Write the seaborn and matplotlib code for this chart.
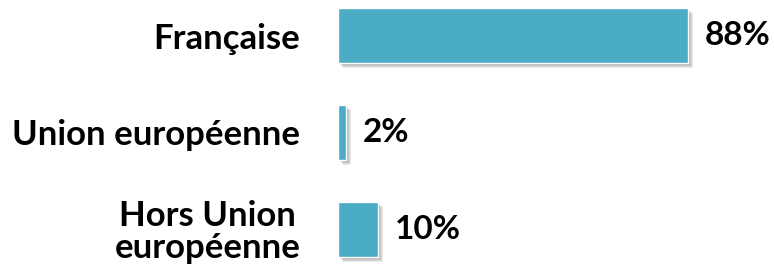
import matplotlib
matplotlib.use('Agg')
import matplotlib.pyplot as plt
import matplotlib.patheffects as pe
import seaborn as sns
import pandas as pd

categories = ['Française', 'Union européenne', 'Hors Union\neuropéenne']
values = [88, 2, 10]
value_labels = ['88%', '2%', '10%']

df = pd.DataFrame({'Nationalite': categories, 'Part': values})

sns.set_style('white')
plt.rcParams['font.family'] = ['Lato', 'DejaVu Sans']

fig = plt.figure(figsize=(7.74, 2.68), dpi=100)
ax = fig.add_axes([338 / 774, 0, 398 / 774, 1])

sns.barplot(
    data=df,
    x='Part',
    y='Nationalite',
    orient='h',
    color='#4BACC6',
    saturation=1,
    width=0.567,
    ax=ax
)

# ombre portée floue sous les barres (plusieurs couches)
shadow = [pe.SimplePatchShadow(offset=(d, -d), shadow_rgbFace='#404040', alpha=0.11)
          for d in (0.8, 1.5, 2.2, 2.9, 3.6)]
for p in ax.patches:
    p.set_path_effects(shadow + [pe.Normal()])

ax.bar_label(ax.containers[0], labels=value_labels, padding=12,
             fontsize=24, fontweight='bold', color='black')

ax.set_xlim(0, 100)
ax.set_ylim(2.397, -0.366)
ax.set_xlabel('')
ax.set_ylabel('')
ax.set_xticks([])
sns.despine(ax=ax, left=True, bottom=True)
ax.tick_params(axis='y', length=0, pad=27)
for t in ax.get_yticklabels():
    t.set_fontsize(25)
    t.set_fontweight('bold')
    t.set_color('black')
    t.set_multialignment('center')
    t.set_linespacing(1.0)

fig.savefig('out.png', dpi=100)
